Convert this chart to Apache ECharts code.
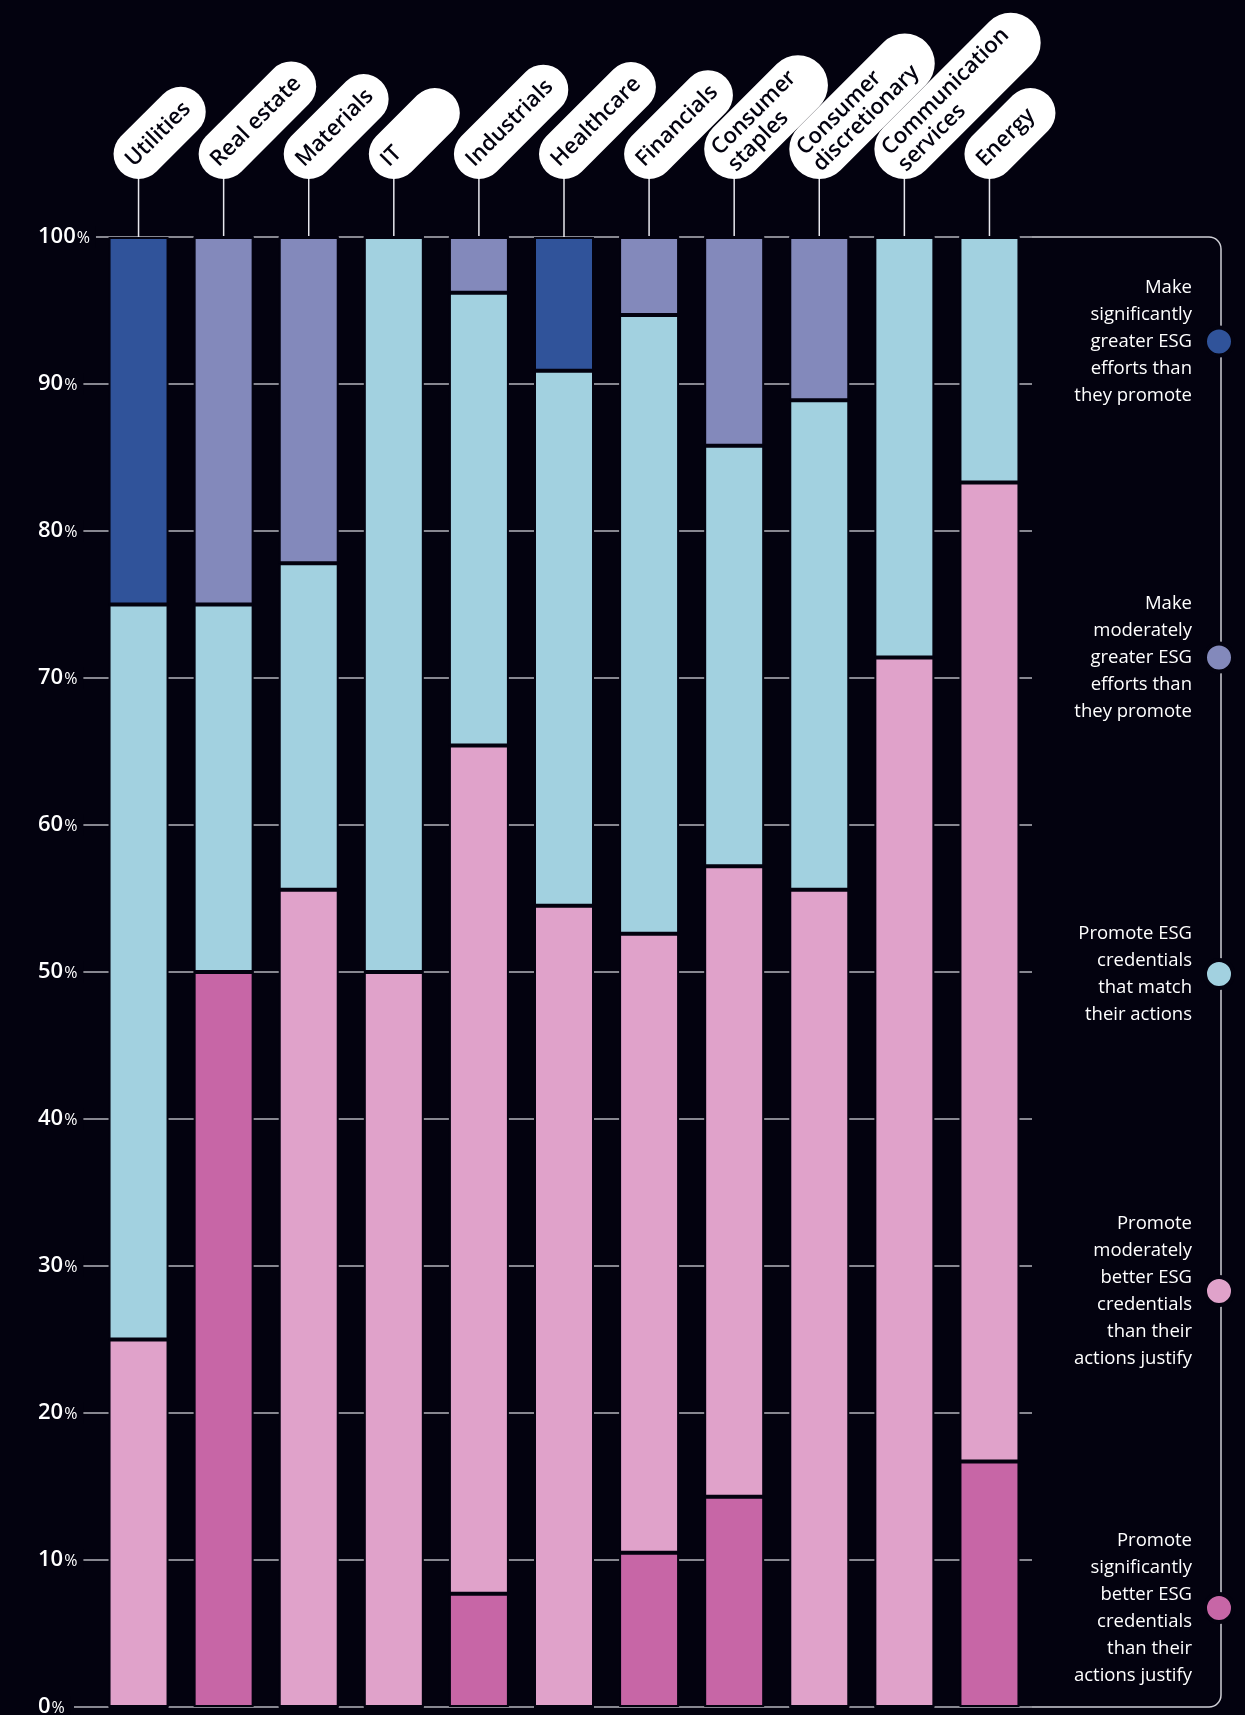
<!DOCTYPE html>
<html><head><meta charset="utf-8">
<script src="https://cdn.jsdelivr.net/npm/echarts@6/dist/echarts.min.js"></script>
<style>html,body{margin:0;padding:0;background:#03020f;} #c{width:1245px;height:1715px;}</style>
</head><body><div id="c"></div>
<script>
// ---- data ----
const categories = ['Utilities','Real estate','Materials','IT','Industrials','Healthcare','Financials','Consumer\nstaples','Consumer\ndiscretionary','Communication\nservices','Energy'];
const promoteSignificantlyBetter = [0, 50, 0, 0, 7.7, 0, 10.5, 14.3, 0, 0, 16.7];
const promoteModeratelyBetter   = [25, 0, 55.6, 50, 57.7, 54.5, 42.1, 42.9, 55.6, 71.4, 66.6];
const promoteMatch              = [50, 25, 22.2, 50, 30.8, 36.4, 42.1, 28.6, 33.3, 28.6, 16.7];
const makeModeratelyGreater     = [0, 25, 22.2, 0, 3.8, 0, 5.3, 14.2, 11.1, 0, 0];
const makeSignificantlyGreater  = [25, 0, 0, 0, 0, 9.1, 0, 0, 0, 0, 0];
const yTickValues = [0,10,20,30,40,50,60,70,80,90,100];

const seriesNames = [
  'Promote significantly better ESG credentials than their actions justify',
  'Promote moderately better ESG credentials than their actions justify',
  'Promote ESG credentials that match their actions',
  'Make moderately greater ESG efforts than they promote',
  'Make significantly greater ESG efforts than they promote'
];
const legendLabels = {
  'Make significantly greater ESG efforts than they promote': 'Make\nsignificantly\ngreater ESG\nefforts than\nthey promote',
  'Make moderately greater ESG efforts than they promote': 'Make\nmoderately\ngreater ESG\nefforts than\nthey promote',
  'Promote ESG credentials that match their actions': 'Promote ESG\ncredentials\nthat match\ntheir actions',
  'Promote moderately better ESG credentials than their actions justify': 'Promote\nmoderately\nbetter ESG\ncredentials\nthan their\nactions justify',
  'Promote significantly better ESG credentials than their actions justify': 'Promote\nsignificantly\nbetter ESG\ncredentials\nthan their\nactions justify'
};
const colors = ['#c766a6', '#e0a2ca', '#a2d1e0', '#8389bb', '#30539a'];
const seriesData = [promoteSignificantlyBetter, promoteModeratelyBetter, promoteMatch, makeModeratelyGreater, makeSignificantlyGreater];

const BG = '#03020f';
const FONT = '"Open Sans", "DejaVu Sans", sans-serif';

const legendTops = [274, 590, 920, 1210, 1527];
const legendOrder = [4, 3, 2, 1, 0];

const chart = echarts.init(document.getElementById('c'), null, {renderer: 'canvas'});
const option = {
  backgroundColor: BG,
  animation: false,
  grid: {left: 96, right: 213, top: 237, bottom: 8, containLabel: false, outerBoundsMode: 'none'},
  xAxis: {
    type: 'category',
    position: 'top',
    data: categories,
    axisLine: {show: false},
    axisTick: {show: false},
    axisLabel: {show: false},
    splitLine: {show: false}
  },
  yAxis: {
    type: 'value', min: 0, max: 100, interval: 10,
    axisLine: {show: false},
    axisTick: {show: true, length: 22, lineStyle: {color: '#b4b4bc', width: 1.5}},
    splitLine: {show: true, lineStyle: {color: '#b4b4bc', width: 1.5}},
    axisLabel: {
      align: 'left', margin: 58,
      backgroundColor: BG, padding: [0, 6, 0, 0],
      formatter: v => '{n|' + v + '}{p|%}',
      rich: {
        n: {color: '#ffffff', fontFamily: FONT, fontWeight: 600, fontSize: 22},
        p: {color: '#ffffff', fontFamily: FONT, fontWeight: 500, fontSize: 16, padding: [3, 0, 0, 1]}
      }
    }
  },
  legend: legendOrder.map((si, k) => ({
    data: [seriesNames[si]],
    orient: 'vertical', align: 'right', right: 10, top: legendTops[k], padding: 0, z: 10,
    selectedMode: false,
    icon: 'circle', itemWidth: 28, itemHeight: 28,
    itemStyle: {borderColor: BG, borderWidth: 4},
    formatter: name => legendLabels[name],
    textStyle: {color: '#ffffff', fontFamily: FONT, fontWeight: 500, fontSize: 18.5, lineHeight: 27, align: 'right', padding: [0, 8, 0, 0]}
  })),
  series: seriesData.map((d, i) => ({
    name: seriesNames[i],
    type: 'bar',
    stack: 'total',
    barWidth: 60,
    data: d,
    itemStyle: {color: colors[i], borderColor: BG, borderWidth: 2},
    emphasis: {disabled: true}
  }))
};
chart.setOption(option);

// ---- decorations derived from the chart's own scales ----
const yTop = chart.convertToPixel({yAxisIndex: 0}, 100);
const yBot = chart.convertToPixel({yAxisIndex: 0}, 0);
const xStart = 1245 - 213;
const xv = 1221, rc = 12;
const st = {stroke: '#cfcfd6', lineWidth: 1.5, fill: null};
const graphics = [
  {type: 'line', z: 1, silent: true, shape: {x1: xStart, y1: yTop, x2: xv - rc, y2: yTop}, style: st},
  {type: 'arc', z: 1, silent: true, shape: {cx: xv - rc, cy: yTop + rc, r: rc, startAngle: -Math.PI / 2, endAngle: 0, clockwise: true}, style: st},
  {type: 'line', z: 1, silent: true, shape: {x1: xv, y1: yTop + rc, x2: xv, y2: yBot - rc}, style: st},
  {type: 'arc', z: 1, silent: true, shape: {cx: xv - rc, cy: yBot - rc, r: rc, startAngle: 0, endAngle: Math.PI / 2, clockwise: true}, style: st},
  {type: 'line', z: 1, silent: true, shape: {x1: xv - rc, y1: yBot, x2: xStart, y2: yBot}, style: st}
];

// category label pills (rotated 45°) with connector lines
const mctx = document.createElement('canvas').getContext('2d');
const PILL_FS = 22;
mctx.font = '600 ' + PILL_FS + 'px "Open Sans"';
const pillBottom = yTop - 58;
categories.forEach((cat, i) => {
  const cx = chart.convertToPixel({xAxisIndex: 0}, i);
  const lines = cat.split('\n');
  const tw = Math.max(...lines.map(s => mctx.measureText(s).width));
  const twoLine = lines.length > 1;
  const r = twoLine ? 30 : 25;
  const padL = twoLine ? 15 : 12;
  const padR = twoLine ? 26 : 16;
  let L = padL + tw + padR;
  if (L < 108) L = 108;
  graphics.push({type: 'line', z: 2, silent: true, shape: {x1: cx, y1: yTop, x2: cx, y2: pillBottom - 4}, style: {stroke: '#e8e8ee', lineWidth: 1.5}});
  graphics.push({
    type: 'group', z: 5, silent: true,
    x: cx, y: pillBottom - r, rotation: Math.PI / 4,
    children: [
      {type: 'rect', z: 5, shape: {x: -r, y: -r, width: L, height: 2 * r, r: r}, style: {fill: '#ffffff'}},
      {type: 'text', z: 6, x: -r + padL, y: 0, style: {
        text: cat, fill: BG, fontFamily: FONT, fontWeight: 600, fontSize: PILL_FS, lineHeight: 23,
        align: 'left', verticalAlign: 'middle', textAlign: 'left', textVerticalAlign: 'middle'
      }}
    ]
  });
});
chart.setOption({graphic: graphics});
</script>
</body></html>
